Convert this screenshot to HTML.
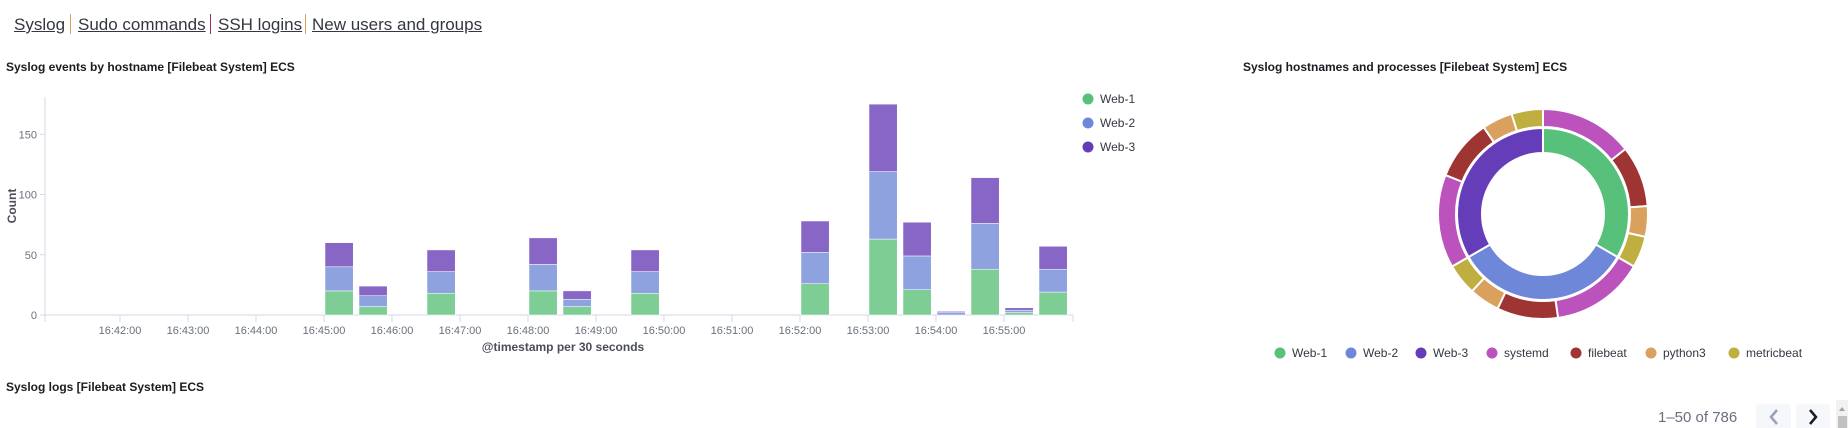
<!DOCTYPE html>
<html><head><meta charset="utf-8"><style>
body{margin:0;background:#fff;width:1848px;height:428px;overflow:hidden;font-family:"Liberation Sans",sans-serif}
svg{position:absolute;left:0;top:0}
.nav{position:absolute;top:15px;font-size:17px;color:#343741;text-decoration:underline;white-space:nowrap}
.sep{position:absolute;top:14px;width:1px;height:20px}
</style></head><body>
<span class="nav" style="left:14px">Syslog</span>
<div class="sep" style="left:70px;background:#daa05d"></div>
<span class="nav" style="left:78px">Sudo commands</span>
<div class="sep" style="left:210px;background:#a0305a"></div>
<span class="nav" style="left:218px">SSH logins</span>
<div class="sep" style="left:305px;background:#daa05d"></div>
<span class="nav" style="left:312px">New users and groups</span>
<svg id="s" width="1848" height="428" xmlns="http://www.w3.org/2000/svg" font-family="Liberation Sans, sans-serif"></svg>
<script>
const binStarts=["16:45:00","16:45:30","16:46:30","16:48:00","16:48:30","16:49:30","16:52:00","16:53:00","16:53:30","16:54:00","16:54:30","16:55:00","16:55:30"];
const web1=[20,7,18,20,7,18,26,63,21,0,38,2,19];
const web2=[20,9,18,22,6,18,26,56,28,2,38,2,19];
const web3=[20,8,18,22,7,18,26,56,28,1,38,2,19];
const yTicks=[0,50,100,150];
const xTicks=["16:42:00","16:43:00","16:44:00","16:45:00","16:46:00","16:47:00","16:48:00","16:49:00","16:50:00","16:51:00","16:52:00","16:53:00","16:54:00","16:55:00"];
const hosts=["Web-1","Web-2","Web-3"];
const hostCounts=[262,262,262];
const procs=["systemd","filebeat","python3","metricbeat"];
const procCounts=[[113,74,37,38],[113,74,37,38],[113,74,37,38]];

const S=document.getElementById('s');const NS='http://www.w3.org/2000/svg';
function el(t,a,p){const e=document.createElementNS(NS,t);for(const k in a)e.setAttribute(k,a[k]);(p||S).appendChild(e);return e;}
function txt(x,y,s,a){const e=el('text',Object.assign({x:x,y:y},a||{}));e.textContent=s;return e;}
function sec(t){const p=t.split(':').map(Number);return p[0]*3600+p[1]*60+p[2];}
const t0=sec("16:42:00");
function X(t){return 120+(sec(t)-t0)*68/60;}
function Y(v){return 315-v*1.205;}
const binW=34*0.83;

let e;
e=txt(6,71,"Syslog events by hostname [Filebeat System] ECS",{'font-size':12,'font-weight':'bold',fill:'#1a1c21'});

e=txt(1243,71,"Syslog hostnames and processes [Filebeat System] ECS",{'font-size':12,'font-weight':'bold',fill:'#1a1c21'});

e=txt(6,391,"Syslog logs [Filebeat System] ECS",{'font-size':12,'font-weight':'bold',fill:'#1a1c21'});


e=el('line',{x1:45,y1:97,x2:45,y2:315,stroke:'#d3dae6'});

e=el('line',{x1:45,y1:315,x2:1073,y2:315,stroke:'#d3dae6'});

el('line',{x1:45,y1:315,x2:45,y2:322,stroke:'#d3dae6'});
el('line',{x1:1073,y1:315,x2:1073,y2:322,stroke:'#d3dae6'});
yTicks.forEach(v=>{el('line',{x1:40,y1:Y(v),x2:45,y2:Y(v),stroke:'#d3dae6'});
 e=txt(37,Y(v)+4,String(v),{'font-size':11,fill:'#69707d','text-anchor':'end'});
 });
xTicks.forEach(t=>{el('line',{x1:X(t),y1:315,x2:X(t),y2:322,stroke:'#d3dae6'});
 e=txt(X(t),334,t,{'font-size':11,fill:'#69707d','text-anchor':'middle'});
 });
e=txt(0,0,"Count",{'font-size':12,'font-weight':'bold',fill:'#4a4e57','text-anchor':'middle',transform:'translate(16,206) rotate(-90)'});

e=txt(563,351,"@timestamp per 30 seconds",{'font-size':12,'font-weight':'bold',fill:'#4a4e57','text-anchor':'middle'});


const barCols=['#7dcd95','#8ea2df','#8866c6'];
binStarts.forEach((b,i)=>{let base=0;[web1[i],web2[i],web3[i]].forEach((v,k)=>{
 if(v>0){e=el('rect',{x:X(b)+1,y:Y(base+v),width:binW,height:Y(base)-Y(base+v),fill:barCols[k],stroke:'#fff','stroke-width':0.5});
 }
 base+=v;});});

const hostCols=['#57c17b','#6f87d8','#663db8'];
hosts.forEach((h,i)=>{const g=el('g',{});
 
 el('circle',{cx:1088,cy:99+i*24,r:5.5,fill:hostCols[i]},g);
 txt(1100,103+i*24,h,{'font-size':12,fill:'#343741'},g);});

const cx=1543,cy=214;
function arc(r0,r1,a0,a1,col,g){const p=(r,a)=>[cx+r*Math.sin(a),cy-r*Math.cos(a)];
 const L=(a1-a0)>Math.PI?1:0;const A=p(r1,a0),B=p(r1,a1),C=p(r0,a1),D=p(r0,a0);
 return el('path',{d:`M${A}A${r1},${r1} 0 ${L} 1 ${B}L${C}A${r0},${r0} 0 ${L} 0 ${D}Z`,fill:col,stroke:'#fff','stroke-width':2},g);}
const procCols=['#bc52bc','#9e3533','#daa05d','#bfaf40'];
const tot=hostCounts.reduce((a,b)=>a+b,0);let a=0;
hostCounts.forEach((c,i)=>{const a1=a+c/tot*2*Math.PI;
 e=arc(61,86,a,a1,hostCols[i]);
 const sub=procCounts[i].reduce((x,y)=>x+y,0);let b=a;
 procCounts[i].forEach((v,j)=>{const b1=b+v/sub*(a1-a);
  e=arc(87,105,b,b1,procCols[j]);b=b1;});
 a=a1;});

const legNames=hosts.concat(procs),legCols=hostCols.concat(procCols),legX=[1280,1351,1421,1492,1576,1651,1734];
legNames.forEach((n,i)=>{const g=el('g',{});
 
 el('circle',{cx:legX[i],cy:353,r:5.5,fill:legCols[i]},g);
 txt(legX[i]+12,357,n,{'font-size':12,fill:'#343741'},g);});

e=txt(1658,422,"1–50 of 786",{'font-size':15,fill:'#69707d'});

e=el('rect',{x:1756,y:404,width:35,height:30,rx:4,fill:'#f5f7fa'});

el('path',{d:'M1777,410 l-6,7 l6,7',stroke:'#98a2b3','stroke-width':2.5,fill:'none'});
e=el('rect',{x:1796,y:404,width:34,height:30,rx:4,fill:'#f5f7fa'});

el('path',{d:'M1810,410 l6,7 l-6,7',stroke:'#1a1c21','stroke-width':2.5,fill:'none'});
e=el('rect',{x:1836,y:400,width:12,height:28,fill:'#f1f1f1'});

el('path',{d:'M1839,411 l3,-4 l3,4z',fill:'#a3a3a3'});
el('rect',{x:1838,y:416,width:9,height:12,fill:'#c1c1c1'});
</script>
</body></html>
